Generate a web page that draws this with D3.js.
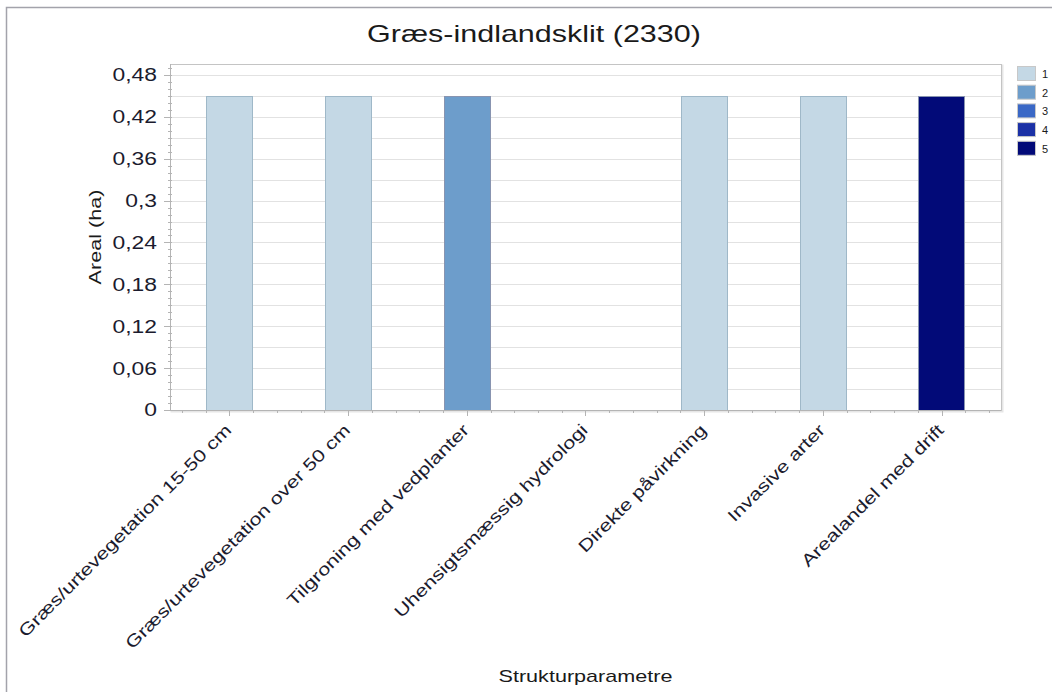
<!DOCTYPE html>
<html>
<head>
<meta charset="utf-8">
<script src="https://cdn.jsdelivr.net/npm/d3@7"></script>
<style>
  body { margin: 0; background: #fff; }
  svg { display: block; font-family: "Liberation Sans", Arial, sans-serif; }
</style>
</head>
<body>
<div id="chart"></div>
<script>
// chart data
const categories = [
  "Græs/urtevegetation 15-50 cm",
  "Græs/urtevegetation over 50 cm",
  "Tilgroning med vedplanter",
  "Uhensigtsmæssig hydrologi",
  "Direkte påvirkning",
  "Invasive arter",
  "Arealandel med drift"
];
const values = [0.45, 0.45, 0.45, 0, 0.45, 0.45, 0.45];
const classes = [1, 1, 2, null, 1, 1, 5];
const legendKeys = [1, 2, 3, 4, 5];
const legendColors = ["#c4d8e5", "#6d9dcb", "#3a68c6", "#1b31a6", "#020a78"];
const yTicks = [0, 0.06, 0.12, 0.18, 0.24, 0.3, 0.36, 0.42, 0.48];

const width = 1052, height = 692;
const margin = { top: 64, right: 51, bottom: 282, left: 170 };
const innerWidth = width - margin.left - margin.right;
const innerHeight = height - margin.top - margin.bottom;
const wide = 1.27; // reference font is wider than Liberation Sans

const colorScale = d3.scaleOrdinal().domain(legendKeys).range(legendColors);
const fmt = d => d3.format("")(d).replace(".", ",");

// stretch text horizontally along its baseline
function widen(sel) {
  sel.each(function () {
    const len = this.getComputedTextLength();
    d3.select(this)
      .attr("textLength", len * wide)
      .attr("lengthAdjust", "spacingAndGlyphs");
  });
}

const svg = d3.select("#chart").append("svg")
  .attr("width", width)
  .attr("height", height);

// outer frame
svg.append("path")
  .attr("d", `M6.5,${height} V7.5 H${width}`)
  .attr("fill", "none")
  .attr("stroke", "#a3a3ab")
  .attr("stroke-width", 1.5);

// title
svg.append("text")
  .attr("x", 534)
  .attr("y", 42)
  .attr("text-anchor", "middle")
  .attr("font-size", 24)
  .attr("fill", "#1a1a1a")
  .text("Græs-indlandsklit (2330)")
  .call(widen);

const innerChart = svg.append("g")
  .attr("transform", `translate(${margin.left},${margin.top})`);

const xScale = d3.scaleBand()
  .domain(categories)
  .range([0, innerWidth]);

const yScale = d3.scaleLinear()
  .domain([0, 0.4957])
  .range([innerHeight, 0]);

// plot area shadow + box
innerChart.append("rect")
  .attr("x", 1.5).attr("y", 1.5)
  .attr("width", innerWidth).attr("height", innerHeight)
  .attr("fill", "none")
  .attr("stroke", "#e6e6e6")
  .attr("stroke-width", 2);
innerChart.append("rect")
  .attr("x", 0.5).attr("y", 0.5)
  .attr("width", innerWidth).attr("height", innerHeight)
  .attr("fill", "#fff")
  .attr("stroke", "#c4c4c4");

// gridlines every 0.03
innerChart.append("g")
  .selectAll("line")
  .data(d3.range(1, 17).map(i => i * 0.03))
  .join("line")
  .attr("x1", 1).attr("x2", innerWidth)
  .attr("y1", d => Math.round(yScale(d)) + 0.5)
  .attr("y2", d => Math.round(yScale(d)) + 0.5)
  .attr("stroke", "#e2e2e2");

// bars
innerChart.selectAll(".bar")
  .data(categories.map((c, i) => ({ c, v: values[i], k: classes[i] })).filter(d => d.v > 0))
  .join("rect")
  .attr("class", "bar")
  .attr("x", d => Math.round(xScale(d.c) + xScale.bandwidth() * 0.305) + 0.5)
  .attr("y", d => Math.round(yScale(d.v)) + 0.5)
  .attr("width", Math.round(xScale.bandwidth() * 0.385))
  .attr("height", d => Math.round(yScale(0)) - Math.round(yScale(d.v)))
  .attr("fill", d => colorScale(d.k))
  .attr("stroke", d => d.k === 1 ? "#9fb8c8" : "#8894b0");

// y axis
const yAxis = innerChart.append("g");
yAxis.append("line")
  .attr("x1", 0.5).attr("x2", 0.5)
  .attr("y1", 0).attr("y2", innerHeight)
  .attr("stroke", "#b4b4b4");
yAxis.selectAll(".minor")
  .data(d3.range(1, 50).map(i => i * 0.01))
  .join("line")
  .attr("x1", -2).attr("x2", 2)
  .attr("y1", d => Math.round(yScale(d)) + 0.5)
  .attr("y2", d => Math.round(yScale(d)) + 0.5)
  .attr("stroke", "#b4b4b4");
yAxis.selectAll(".major")
  .data(yTicks)
  .join("line")
  .attr("x1", -6).attr("x2", 0)
  .attr("y1", d => Math.round(yScale(d)) + 0.5)
  .attr("y2", d => Math.round(yScale(d)) + 0.5)
  .attr("stroke", "#b4b4b4");
yAxis.selectAll("text")
  .data(yTicks)
  .join("text")
  .attr("x", -13)
  .attr("y", d => yScale(d))
  .attr("dy", "0.36em")
  .attr("text-anchor", "end")
  .attr("font-size", 18)
  .attr("fill", "#1b1b2e")
  .text(fmt)
  .call(widen);

// x axis
const xAxis = innerChart.append("g")
  .attr("transform", `translate(0,${innerHeight})`);
xAxis.append("line")
  .attr("x1", 0).attr("x2", innerWidth)
  .attr("y1", 0.5).attr("y2", 0.5)
  .attr("stroke", "#b4b4b4");
const minorX = [];
categories.forEach(c => {
  for (let k = -2; k <= 2; k++) {
    if (k !== 0) minorX.push(xScale(c) + xScale.bandwidth() / 2 + k * xScale.bandwidth() / 5);
  }
});
xAxis.selectAll(".minor")
  .data(minorX)
  .join("line")
  .attr("x1", d => Math.round(d) + 0.5).attr("x2", d => Math.round(d) + 0.5)
  .attr("y1", 0).attr("y2", 3)
  .attr("stroke", "#b4b4b4");
xAxis.selectAll(".major")
  .data(categories)
  .join("line")
  .attr("x1", d => Math.round(xScale(d) + xScale.bandwidth() / 2) + 0.5)
  .attr("x2", d => Math.round(xScale(d) + xScale.bandwidth() / 2) + 0.5)
  .attr("y1", 0).attr("y2", 6)
  .attr("stroke", "#b4b4b4");
xAxis.selectAll("text")
  .data(categories)
  .join("text")
  .attr("transform", d => `translate(${xScale(d) + xScale.bandwidth() / 2 - 1},17) rotate(-45)`)
  .attr("text-anchor", "end")
  .attr("dy", "0.35em")
  .attr("font-size", 17)
  .attr("fill", "#1b1b2e")
  .text(d => d)
  .call(widen);

// axis titles
svg.append("text")
  .attr("transform", `translate(101,${margin.top + innerHeight / 2}) rotate(-90)`)
  .attr("text-anchor", "middle")
  .attr("font-size", 17)
  .attr("fill", "#1a1a1a")
  .text("Areal (ha)")
  .call(widen);

svg.append("text")
  .attr("x", margin.left + innerWidth / 2)
  .attr("y", 682)
  .attr("text-anchor", "middle")
  .attr("font-size", 17)
  .attr("fill", "#1a1a1a")
  .text("Strukturparametre")
  .call(widen);

// legend
const legend = svg.append("g")
  .attr("transform", `translate(1017, 66)`);
legendKeys.forEach((key, i) => {
  const g = legend.append("g")
    .attr("transform", `translate(0, ${i * 18.7})`);
  g.append("rect")
    .attr("x", 0.5).attr("y", 0.5)
    .attr("width", 18)
    .attr("height", 14)
    .attr("fill", colorScale(key))
    .attr("stroke", "#c8c8c8");
  g.append("text")
    .attr("x", 25)
    .attr("y", 12)
    .attr("font-size", 11)
    .attr("fill", "#1a1a1a")
    .text(key);
});
</script>
</body>
</html>
